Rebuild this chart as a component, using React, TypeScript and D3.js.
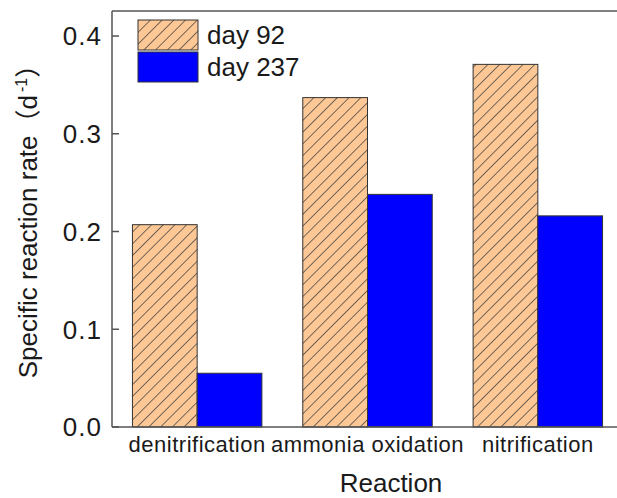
import React from "react";
import * as d3 from "d3";

const categories = ["denitrification", "ammonia oxidation", "nitrification"];
const seriesNames = ["day 92", "day 237"];
const day92 = [0.207, 0.337, 0.371];
const day237 = [0.055, 0.238, 0.216];
const yTicks = [0.0, 0.1, 0.2, 0.3, 0.4];

const W = 617;
const H = 498;
const left = 112;
const top = 11;
const bottom = 427;
const right = 623;

export default function App() {
  const x = d3
    .scaleBand<string>()
    .domain(categories)
    .range([left, right])
    .paddingInner(0.24)
    .paddingOuter(0.12);
  const y = d3.scaleLinear().domain([0, 0.4256]).range([bottom, top]);
  const half = x.bandwidth() / 2;
  const font = "'Liberation Sans', Arial, sans-serif";
  const series = [day92, day237];
  const txt = "#1a1a1a";

  return (
    <svg
      width={W}
      height={H}
      style={{ position: "absolute", left: 0, top: 0, background: "#fff" }}
      fontFamily={font}
    >
      <defs>
        <pattern
          id="hatch"
          patternUnits="userSpaceOnUse"
          width={8.3}
          height={8.3}
          patternTransform="rotate(45)"
        >
          <rect width={8.3} height={8.3} fill="#FDC896" />
          <line x1={0} y1={0} x2={0} y2={8.3} stroke="#3a3a3a" strokeWidth={1.4} />
        </pattern>
      </defs>
      <rect width={W} height={H} fill="#fff" />

      {categories.map((c, i) =>
        series.map((s, j) => (
          <rect
            key={c + j}
            x={(x(c) as number) + j * half}
            y={y(s[i])}
            width={half}
            height={y(0) - y(s[i])}
            fill={j === 0 ? "url(#hatch)" : "#0000FF"}
            stroke="#333"
            strokeWidth={1}
          />
        ))
      )}

      {/* frame */}
      <line x1={left} y1={top} x2={W} y2={top} stroke="#555" strokeWidth={1.5} />
      <line x1={left} y1={top} x2={left} y2={bottom} stroke="#555" strokeWidth={1.5} />
      <line x1={left} y1={bottom} x2={W} y2={bottom} stroke="#555" strokeWidth={1.5} />

      {yTicks.map((t) => (
        <g key={t}>
          <line x1={left} x2={left + 7} y1={y(t)} y2={y(t)} stroke="#555" strokeWidth={1.5} />
          <text
            x={102}
            y={y(t)}
            dy="0.36em"
            textAnchor="end"
            fontSize={26}
            letterSpacing={1}
            fill={txt}
          >
            {d3.format(".1f")(t)}
          </text>
        </g>
      ))}

      {categories.map((c) => (
        <text
          key={c}
          x={(x(c) as number) + half}
          y={452}
          textAnchor="middle"
          fontSize={22}
          letterSpacing={0.5}
          fill={txt}
        >
          {c}
        </text>
      ))}

      <text x={391} y={492} textAnchor="middle" fontSize={26} fill={txt}>
        Reaction
      </text>

      <text
        transform={`translate(37,${215}) rotate(-90)`}
        textAnchor="middle"
        fontSize={26}
        fill={txt}
      >
        Specific reaction rate
        <tspan fontFamily="'Noto Sans CJK SC', sans-serif">（</tspan>
        d
        <tspan dx={3} dy={-10} fontSize={16}>-1</tspan>
        <tspan dy={10} fontFamily="'Noto Sans CJK SC', sans-serif">）</tspan>
      </text>

      {/* legend */}
      {seriesNames.map((n, j) => (
        <g key={n} transform={`translate(138,${20 + j * 32})`}>
          <rect
            width={60}
            height={30}
            fill={j === 0 ? "url(#hatch)" : "#0000FF"}
            stroke="#333"
            strokeWidth={1}
          />
          <text x={69} y={15} dy="0.36em" fontSize={26} fill={txt}>
            {n}
          </text>
        </g>
      ))}
    </svg>
  );
}
